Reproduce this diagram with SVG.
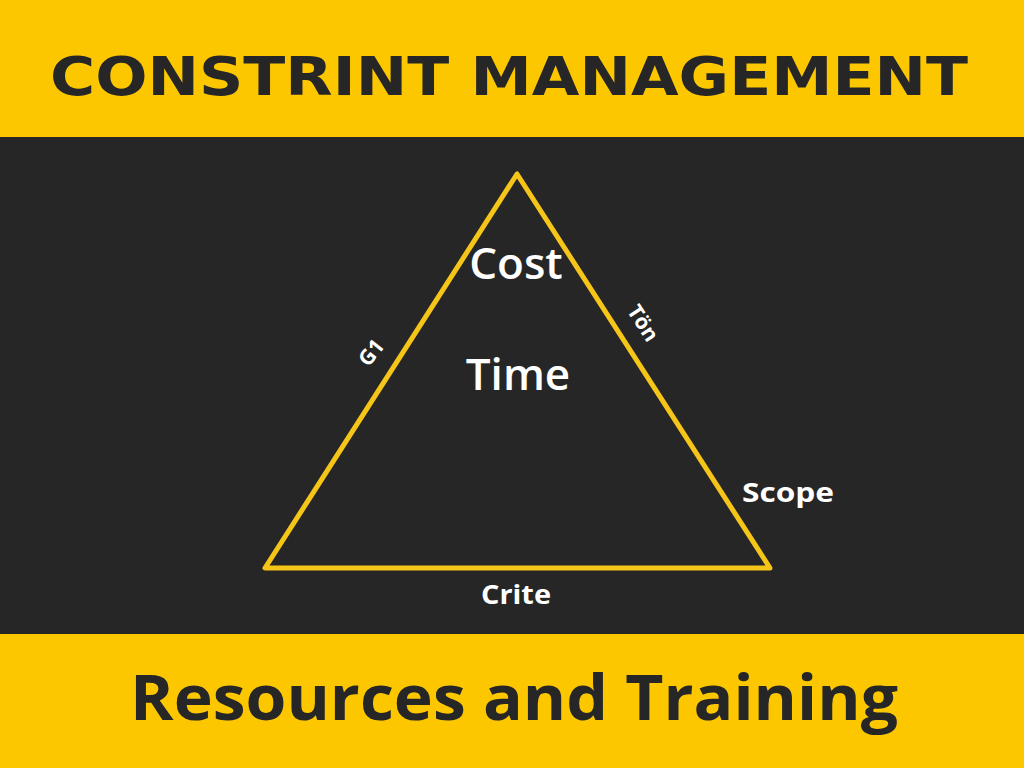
<svg xmlns="http://www.w3.org/2000/svg" width="1024" height="768" viewBox="0 0 1024 768">
<style>
.w{fill:#fff;font-family:"Open Sans","Noto Sans",sans-serif;font-weight:700}
.k{fill:#262626;font-family:"Open Sans","Noto Sans",sans-serif;font-weight:700}
</style>
<rect x="0" y="0" width="1024" height="768" fill="#262626"/>
<rect id="top-band" x="0" y="0" width="1024" height="137" fill="#FDC700"/>
<rect id="bottom-band" x="0" y="634" width="1024" height="134" fill="#FDC700"/>
<text class="k" x="509" y="95" font-size="53" text-anchor="middle" textLength="918" lengthAdjust="spacingAndGlyphs" style="font-family:'DejaVu Sans',sans-serif;font-weight:700">CONSTRINT MANAGEMENT</text>
<text class="k" x="514" y="720" font-size="62" text-anchor="middle" textLength="768" lengthAdjust="spacingAndGlyphs">Resources and Training</text>
<g id="connectors">
<polygon points="517,174 265,568 770,568" fill="none" stroke="#F5C518" stroke-width="5" stroke-linejoin="round"/>
</g>
<g id="labels">
<text class="w" x="516" y="279" font-size="44" text-anchor="middle" style="font-weight:600">Cost</text>
<text class="w" x="518" y="390" font-size="44" text-anchor="middle" style="font-weight:600">Time</text>
<text class="w" x="788" y="502" font-size="27" text-anchor="middle" textLength="92" lengthAdjust="spacingAndGlyphs">Scope</text>
<text class="w" x="516" y="604" font-size="27" text-anchor="middle" textLength="70" lengthAdjust="spacingAndGlyphs">Crite</text>
<text class="w" font-size="21" text-anchor="middle" transform="translate(377,357) rotate(-52)">G1</text>
<text class="w" font-size="21" text-anchor="middle" transform="translate(637,327) rotate(57)">Tön</text>
</g>
</svg>
